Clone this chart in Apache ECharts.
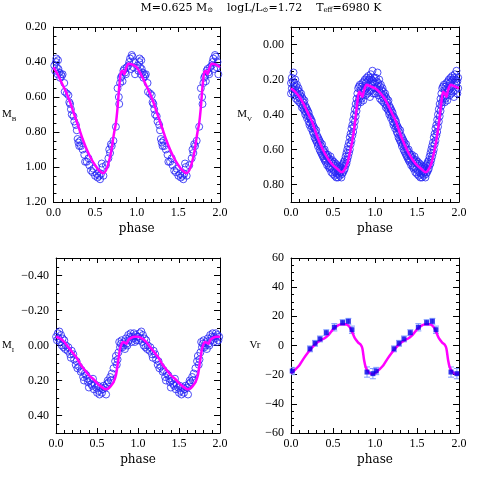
<!DOCTYPE html>
<html>
<head>
<meta charset="utf-8">
<script src="https://cdn.jsdelivr.net/npm/echarts@6/dist/echarts.min.js"></script>
<style>
  html, body { margin: 0; padding: 0; background: #fff; }
  #chart { width: 485px; height: 485px; }
</style>
</head>
<body>
<div id="chart"></div>
<script>
// one pulsation cycle per array, phase in [0,1); the plot shows it twice (phase and phase+1)

// B band: observed points and model curve
var bPoints = [
  [0.01,0.42],[0.02,0.45],[0.03,0.40],[0.035,0.38],[0.04,0.43],[0.05,0.47],[0.055,0.39],[0.06,0.44],
  [0.07,0.46],[0.08,0.49],[0.09,0.47],[0.10,0.48],[0.11,0.47],[0.13,0.52],[0.135,0.57],[0.16,0.58],
  [0.18,0.59],[0.19,0.63],[0.20,0.64],[0.21,0.67],[0.22,0.70],[0.24,0.71],[0.25,0.74],[0.27,0.76],
  [0.28,0.79],[0.29,0.84],[0.30,0.86],[0.31,0.88],[0.32,0.85],[0.33,0.88],[0.35,0.90],[0.37,0.93],
  [0.38,0.97],[0.40,0.97],[0.42,0.95],[0.43,0.99],[0.45,1.02],[0.47,1.03],[0.48,1.01],[0.50,1.05],
  [0.52,1.04],[0.53,1.06],[0.55,1.05],[0.56,1.07],[0.57,1.04],[0.58,0.98],[0.59,1.00],[0.60,1.05],
  [0.63,0.99],[0.66,0.95],[0.67,0.90],[0.68,0.92],[0.69,0.87],[0.70,0.88],[0.72,0.85],[0.75,0.77],
  [0.77,0.55],[0.785,0.60],[0.79,0.64],[0.80,0.52],[0.81,0.49],[0.82,0.48],[0.83,0.51],[0.84,0.45],
  [0.85,0.44],[0.86,0.46],[0.87,0.47],[0.88,0.43],[0.90,0.42],[0.91,0.40],[0.92,0.38],[0.93,0.44],
  [0.94,0.36],[0.95,0.37],[0.96,0.43],[0.97,0.40],[0.98,0.47]
];
var bModel = [
  [0,0.43],[0.05,0.47],[0.10,0.52],[0.15,0.57],[0.20,0.63],[0.25,0.70],[0.30,0.77],[0.35,0.84],
  [0.40,0.90],[0.45,0.95],[0.50,0.99],[0.55,1.02],[0.60,1.035],[0.63,1.02],[0.66,0.98],[0.69,0.92],
  [0.71,0.86],[0.73,0.80],[0.75,0.75],[0.77,0.66],[0.79,0.54],[0.81,0.46],[0.83,0.45],[0.85,0.47],
  [0.87,0.44],[0.90,0.41],[0.95,0.415]
];

// V band
var vPoints = [
  [0.00,0.22],[0.00,0.28],[0.01,0.19],[0.01,0.25],[0.02,0.21],[0.02,0.27],[0.03,0.16],[0.03,0.24],
  [0.04,0.22],[0.04,0.29],[0.05,0.20],[0.05,0.26],[0.06,0.24],[0.06,0.31],[0.07,0.23],[0.07,0.28],
  [0.08,0.26],[0.08,0.32],[0.09,0.25],[0.09,0.30],[0.10,0.27],[0.10,0.33],[0.11,0.29],[0.11,0.31],
  [0.12,0.28],[0.12,0.34],[0.13,0.30],[0.13,0.36],[0.14,0.31],[0.14,0.35],[0.15,0.33],[0.15,0.37],
  [0.16,0.32],[0.16,0.38],[0.17,0.35],[0.17,0.40],[0.18,0.36],[0.18,0.39],[0.19,0.37],[0.19,0.42],
  [0.20,0.38],[0.20,0.41],[0.21,0.39],[0.21,0.44],[0.22,0.41],[0.22,0.46],[0.23,0.42],[0.23,0.45],
  [0.24,0.43],[0.24,0.48],[0.25,0.44],[0.25,0.47],[0.26,0.46],[0.26,0.50],[0.27,0.47],[0.27,0.51],
  [0.28,0.48],[0.28,0.53],[0.29,0.50],[0.29,0.54],[0.30,0.49],[0.30,0.55],[0.31,0.52],[0.31,0.56],
  [0.32,0.53],[0.32,0.58],[0.33,0.54],[0.33,0.57],[0.34,0.55],[0.34,0.60],[0.35,0.56],[0.35,0.61],
  [0.36,0.58],[0.36,0.62],[0.37,0.57],[0.37,0.63],[0.38,0.60],[0.38,0.64],[0.39,0.61],[0.39,0.65],
  [0.40,0.60],[0.40,0.66],[0.41,0.62],[0.41,0.67],[0.42,0.63],[0.42,0.66],[0.43,0.64],[0.43,0.69],
  [0.44,0.63],[0.44,0.68],[0.45,0.65],[0.45,0.70],[0.46,0.66],[0.46,0.71],[0.47,0.64],[0.47,0.70],
  [0.48,0.67],[0.48,0.73],[0.49,0.66],[0.49,0.71],[0.50,0.68],[0.50,0.74],[0.51,0.67],[0.51,0.72],
  [0.52,0.69],[0.52,0.75],[0.53,0.68],[0.53,0.73],[0.54,0.70],[0.54,0.76],[0.55,0.69],[0.55,0.74],
  [0.56,0.71],[0.56,0.76],[0.57,0.70],[0.57,0.74],[0.58,0.72],[0.58,0.75],[0.59,0.70],[0.59,0.73],
  [0.60,0.71],[0.60,0.76],[0.61,0.69],[0.61,0.74],[0.62,0.68],[0.62,0.73],[0.63,0.67],[0.63,0.72],
  [0.64,0.66],[0.64,0.71],[0.65,0.64],[0.65,0.69],[0.66,0.62],[0.66,0.68],[0.67,0.60],[0.67,0.66],
  [0.68,0.58],[0.68,0.64],[0.69,0.56],[0.69,0.62],[0.70,0.53],[0.70,0.60],[0.71,0.51],[0.71,0.57],
  [0.72,0.48],[0.72,0.55],[0.73,0.46],[0.73,0.52],[0.74,0.43],[0.74,0.50],[0.75,0.40],[0.75,0.47],
  [0.76,0.37],[0.76,0.44],[0.77,0.34],[0.77,0.41],[0.78,0.31],[0.78,0.38],[0.79,0.28],[0.79,0.35],
  [0.80,0.25],[0.80,0.33],[0.81,0.24],[0.81,0.31],[0.82,0.23],[0.82,0.30],[0.83,0.26],[0.83,0.33],
  [0.84,0.24],[0.84,0.31],[0.85,0.22],[0.85,0.29],[0.86,0.25],[0.86,0.32],[0.87,0.21],[0.87,0.27],
  [0.88,0.20],[0.88,0.26],[0.89,0.22],[0.89,0.29],[0.90,0.19],[0.90,0.25],[0.91,0.21],[0.91,0.28],
  [0.92,0.18],[0.92,0.24],[0.93,0.20],[0.93,0.27],[0.94,0.19],[0.94,0.30],[0.95,0.17],[0.95,0.23],
  [0.96,0.20],[0.96,0.26],[0.97,0.15],[0.97,0.22],[0.98,0.21],[0.98,0.28],[0.99,0.19],[0.99,0.25]
];
var vModel = [
  [0,0.25],[0.05,0.27],[0.10,0.30],[0.15,0.34],[0.20,0.39],[0.25,0.44],[0.30,0.51],[0.35,0.57],
  [0.40,0.62],[0.45,0.66],[0.50,0.69],[0.55,0.71],[0.60,0.73],[0.63,0.72],[0.67,0.68],[0.70,0.62],
  [0.73,0.55],[0.76,0.45],[0.79,0.33],[0.81,0.27],[0.83,0.28],[0.85,0.30],[0.87,0.26],[0.90,0.23],
  [0.95,0.24]
];

// I band
var iPoints = [
  [0.00,-0.05],[0.01,-0.03],[0.02,-0.07],[0.03,-0.04],[0.04,-0.08],[0.05,-0.02],[0.06,-0.06],[0.07,0.00],
  [0.08,-0.04],[0.09,0.01],[0.10,-0.03],[0.11,0.02],[0.12,0.00],[0.14,0.03],[0.15,0.01],[0.17,0.05],
  [0.18,0.07],[0.19,0.03],[0.21,0.05],[0.22,0.08],[0.24,0.11],[0.25,0.09],[0.26,0.13],[0.28,0.12],
  [0.30,0.15],[0.31,0.14],[0.33,0.18],[0.34,0.20],[0.35,0.16],[0.37,0.17],[0.38,0.19],[0.39,0.21],
  [0.40,0.24],[0.41,0.20],[0.43,0.22],[0.44,0.23],[0.45,0.19],[0.46,0.25],[0.47,0.22],[0.49,0.24],
  [0.50,0.27],[0.51,0.23],[0.52,0.26],[0.53,0.28],[0.55,0.24],[0.56,0.27],[0.57,0.25],[0.58,0.23],
  [0.60,0.24],[0.61,0.28],[0.62,0.22],[0.63,0.20],[0.64,0.21],[0.66,0.18],[0.67,0.20],[0.68,0.16],
  [0.70,0.13],[0.72,0.09],[0.73,0.06],[0.74,0.11],[0.75,0.08],[0.76,0.04],[0.77,-0.02],[0.78,0.01],
  [0.79,-0.01],[0.80,-0.03],[0.81,0.01],[0.82,0.00],[0.83,-0.02],[0.84,0.02],[0.85,-0.04],[0.86,-0.01],
  [0.87,0.00],[0.88,-0.06],[0.89,-0.03],[0.90,-0.05],[0.91,-0.07],[0.92,-0.02],[0.93,-0.05],[0.94,-0.04],
  [0.95,-0.07],[0.96,-0.02],[0.97,-0.06],[0.98,-0.03],[0.99,-0.05]
];
var iModel = [
  [0,-0.05],[0.05,-0.04],[0.10,-0.02],[0.15,0.01],[0.20,0.04],[0.25,0.07],[0.30,0.11],[0.35,0.14],
  [0.40,0.17],[0.45,0.19],[0.50,0.215],[0.55,0.235],[0.60,0.25],[0.64,0.245],[0.67,0.23],[0.70,0.21],
  [0.73,0.17],[0.76,0.08],[0.78,0.02],[0.80,-0.01],[0.82,-0.02],[0.84,-0.015],[0.86,-0.01],[0.88,-0.03],
  [0.92,-0.045],[0.96,-0.05]
];

// radial velocity: measurements, their errors and the model curve
var vrPoints = [
  [0.015,-17.5],[0.226,-2.3],[0.286,1.5],[0.345,4.5],[0.42,8.8],[0.516,12.5],
  [0.615,15.7],[0.683,16.6],[0.726,10.8],[0.905,-18.2],[0.975,-19.3]
];
var vrErr = [2.5, 2, 2, 2, 2, 2.5, 2, 2, 2.5, 3.5, 3.5];
var vrModel = [
  [0,-19],[0.05,-16.5],[0.10,-13.5],[0.15,-9],[0.20,-5],[0.25,-1.5],[0.30,1.5],[0.35,3.5],
  [0.40,5],[0.45,7.5],[0.50,11],[0.55,13.5],[0.60,14.5],[0.65,14.5],[0.70,12.5],[0.73,9],
  [0.76,5],[0.80,2],[0.83,0.5],[0.85,-2],[0.87,-10],[0.89,-15],[0.92,-18],[0.96,-19.5]
];

// tick labels
var phaseTicks = [0, 0.5, 1, 1.5, 2];
var bTicks = [0.2, 0.4, 0.6, 0.8, 1.0, 1.2];
var vTicks = [0, 0.2, 0.4, 0.6, 0.8];
var iTicks = [-0.4, -0.2, 0, 0.2, 0.4];
var vrTicks = [-60, -40, -20, 0, 20, 40, 60];

function repeatCycle(pts, close) {
  var out = [];
  for (var c = 0; c < 2; c++) {
    pts.forEach(function (p) { out.push([p[0] + c, p[1]]); });
  }
  if (close) out.push([2, pts[0][1]]);
  return out;
}

function inTicks(v, ticks) {
  return ticks.some(function (t) { return Math.abs(t - v) < 1e-6; });
}

var BLACK = '#000';
var lineStyle = { color: BLACK, width: 1 };
var labelFont = { color: BLACK, fontSize: 12, fontFamily: 'Liberation Serif' };

var grids = [
  { left: 52, top: 27, width: 168, height: 175 },
  { left: 291, top: 27, width: 168, height: 175 },
  { left: 52, top: 258, width: 168, height: 175 },
  { left: 291, top: 258, width: 168, height: 175 }
];

var panels = [
  { min: 0.2, max: 1.2, step: 0.05, ticks: bTicks, digits: 2, inverse: true, name: '{m|M}{s|B}', nameGap: 37 },
  { min: -0.1, max: 0.9, step: 0.05, ticks: vTicks, digits: 2, inverse: true, name: '{m|M}{s|V}', nameGap: 39 },
  { min: -0.5, max: 0.5, step: 0.05, ticks: iTicks, digits: 2, inverse: true, name: '{m|M}{s|I}', nameGap: 42 },
  { min: -60, max: 60, step: 5, ticks: vrTicks, digits: 0, inverse: false, name: '{m|Vr}', nameGap: 30 }
];

var nameRich = {
  m: { fontSize: 11, fontFamily: 'Liberation Serif', color: BLACK, lineHeight: 16 },
  s: { fontSize: 7, fontFamily: 'Liberation Serif', color: BLACK, lineHeight: 7, verticalAlign: 'bottom' }
};

var xAxes = [], yAxes = [], mainX = [], mainY = [];

grids.forEach(function (g, i) {
  var p = panels[i];

  ['bottom', 'top'].forEach(function (pos) {
    var main = pos === 'bottom';
    if (main) mainX[i] = xAxes.length;
    xAxes.push({
      type: 'value', gridIndex: i, position: pos, min: 0, max: 2, interval: 0.5,
      axisLine: { show: true, onZero: false, lineStyle: lineStyle },
      axisTick: { show: true, inside: true, length: 5, lineStyle: lineStyle },
      minorTick: { show: true, splitNumber: 5, length: 3, lineStyle: lineStyle },
      splitLine: { show: false },
      axisLabel: {
        show: main, margin: 5, fontSize: 12, fontFamily: 'Liberation Serif', color: BLACK,
        formatter: function (v) { return inTicks(v, phaseTicks) ? v.toFixed(1) : ''; }
      },
      name: main ? 'phase' : '', nameLocation: 'middle', nameGap: 21,
      nameTextStyle: { fontSize: 12, fontFamily: 'DejaVu Serif', color: BLACK }
    });
  });

  ['left', 'right'].forEach(function (pos) {
    var main = pos === 'left';
    if (main) mainY[i] = yAxes.length;
    // short ticks at every step, labels only on the major values
    yAxes.push({
      type: 'value', gridIndex: i, position: pos, min: p.min, max: p.max, interval: p.step,
      inverse: p.inverse,
      axisLine: { show: true, onZero: false, lineStyle: lineStyle },
      axisTick: { show: true, inside: true, length: 3, lineStyle: lineStyle },
      splitLine: { show: false },
      axisLabel: {
        show: main, margin: 7, fontSize: labelFont.fontSize, fontFamily: labelFont.fontFamily, color: BLACK,
        formatter: function (v) {
          if (!inTicks(v, p.ticks)) return '';
          var s = Math.abs(v).toFixed(p.digits);
          return (v < -1e-9 ? '\u2212' : '') + s;
        }
      },
      name: main ? p.name : '', nameLocation: 'middle', nameRotate: 0, nameGap: p.nameGap,
      nameTextStyle: { rich: nameRich }
    });
    // long ticks at the labelled values
    yAxes.push({
      type: 'value', gridIndex: i, position: pos, min: p.min, max: p.max, inverse: p.inverse,
      axisLine: { show: false, onZero: false },
      axisTick: { show: true, inside: true, length: 6, lineStyle: lineStyle, customValues: p.ticks },
      axisLabel: { show: false },
      splitLine: { show: false }
    });
  });
});

var BLUE = '#2323f5';
var MAGENTA = '#ff00ff';

function circles(i, pts) {
  return {
    type: 'scatter', xAxisIndex: mainX[i], yAxisIndex: mainY[i], clip: true, silent: true,
    symbol: 'circle', symbolSize: 7,
    itemStyle: { color: 'rgba(0,0,0,0)', borderColor: BLUE, borderWidth: 1 },
    data: repeatCycle(pts, false), z: 2
  };
}

function model(i, pts) {
  return {
    type: 'line', xAxisIndex: mainX[i], yAxisIndex: mainY[i], clip: true, silent: true,
    showSymbol: false, smooth: 0.25,
    lineStyle: { color: MAGENTA, width: 2.5 },
    data: repeatCycle(pts, true), z: 3
  };
}

var errData = repeatCycle(vrPoints.map(function (p, k) {
  return [p[0], p[1] - vrErr[k]];
}), false).map(function (d, k) {
  var e = vrErr[k % vrErr.length];
  return [d[0], d[1], d[1] + 2 * e];
});

var option = {
  animation: false,
  backgroundColor: '#fff',
  grid: grids,
  xAxis: xAxes,
  yAxis: yAxes,
  graphic: [{
    type: 'text', x: 261, y: 8,
    style: {
      text: 'M=0.625 M{s|\u2299}    logL/L{s|\u2299}=1.72    T{s|eff}=6980 K',
      fontSize: 11, fontFamily: 'DejaVu Serif', fill: BLACK,
      align: 'center', verticalAlign: 'middle',
      rich: {
        s: { fontSize: 7, fontFamily: 'DejaVu Serif', fill: BLACK, lineHeight: 7, verticalAlign: 'bottom' }
      }
    }
  }],
  series: [
    circles(0, bPoints), model(0, bModel),
    circles(1, vPoints), model(1, vModel),
    circles(2, iPoints), model(2, iModel),
    {
      type: 'custom', xAxisIndex: mainX[3], yAxisIndex: mainY[3], clip: true, silent: true,
      encode: { x: 0, y: [1, 2] },
      data: errData, z: 2,
      renderItem: function (params, api) {
        var lo = api.coord([api.value(0), api.value(1)]);
        var hi = api.coord([api.value(0), api.value(2)]);
        var w = 3;
        var st = { stroke: '#7f9cff', lineWidth: 1 };
        return {
          type: 'group',
          children: [
            { type: 'line', shape: { x1: lo[0], y1: lo[1], x2: hi[0], y2: hi[1] }, style: st },
            { type: 'line', shape: { x1: lo[0] - w, y1: lo[1], x2: lo[0] + w, y2: lo[1] }, style: st },
            { type: 'line', shape: { x1: hi[0] - w, y1: hi[1], x2: hi[0] + w, y2: hi[1] }, style: st }
          ]
        };
      }
    },
    {
      type: 'scatter', xAxisIndex: mainX[3], yAxisIndex: mainY[3], clip: true, silent: true,
      symbol: 'rect', symbolSize: 5,
      itemStyle: { color: '#0000e8' },
      data: repeatCycle(vrPoints, false), z: 3
    },
    model(3, vrModel)
  ]
};

var chart = echarts.init(document.getElementById('chart'));
chart.setOption(option);
</script>
</body>
</html>
